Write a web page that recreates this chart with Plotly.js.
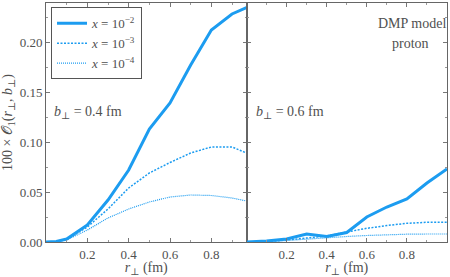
<!DOCTYPE html>
<html>
<head>
<meta charset="utf-8">
<script src="https://cdn.plot.ly/plotly-3.0.1.min.js"></script>
<style>html,body{margin:0;padding:0;background:#fff;}#chart{width:450px;height:277px;}</style>
</head>
<body>
<div id="chart"></div>
<script>
// r_perp values (fm)
var rLeft  = [0, 0.05, 0.1, 0.2, 0.3, 0.4, 0.5, 0.6, 0.7, 0.8, 0.9, 0.97];
var rRight = [0, 0.05, 0.1, 0.2, 0.3, 0.4, 0.5, 0.6, 0.7, 0.8, 0.9, 1.0];
// b_perp = 0.4 fm
var left_x1e2 = [0, 0.0005, 0.003, 0.017, 0.042, 0.072, 0.113, 0.139, 0.177, 0.212, 0.228, 0.2345];
var left_x1e3 = [0, 0.0004, 0.0025, 0.015, 0.033, 0.054, 0.069, 0.0795, 0.089, 0.095, 0.095, 0.089];
var left_x1e4 = [0, 0.0003, 0.002, 0.012, 0.024, 0.033, 0.040, 0.045, 0.047, 0.0465, 0.044, 0.041];
// b_perp = 0.6 fm
var right_x1e2 = [0, 0.0002, 0.001, 0.003, 0.008, 0.0055, 0.0095, 0.025, 0.035, 0.043, 0.059, 0.073];
var right_x1e3 = [0, 0.0001, 0.0005, 0.002, 0.0038, 0.006, 0.010, 0.0137, 0.0165, 0.0187, 0.0197, 0.0197];
var right_x1e4 = [0, 0.0001, 0.0004, 0.0015, 0.003, 0.0045, 0.0055, 0.0065, 0.0073, 0.0078, 0.008, 0.008];
var seriesNames = ['<i>x</i> = 10<sup>\u22122</sup>', '<i>x</i> = 10<sup>\u22123</sup>', '<i>x</i> = 10<sup>\u22124</sup>'];
var xTickVals = [0.2, 0.4, 0.6, 0.8];
var xTickText = ['0.2', '0.4', '0.6', '0.8'];
var yTickVals = [0, 0.05, 0.10, 0.15, 0.20];
var yTickText = ['0.00', '0.05', '0.10', '0.15', '0.20'];

var col = '#1c9cf0';
var styles = [
  {width: 3, dash: 'solid'},
  {width: 1.5, dash: '2px,1.5px'},
  {width: 1.2, dash: '1px,1px'}
];
var leftData = [left_x1e2, left_x1e3, left_x1e4];
var rightData = [right_x1e2, right_x1e3, right_x1e4];
var traces = [];
for (var i = 0; i < 3; i++) {
  traces.push({x: rLeft, y: leftData[i], xaxis: 'x', yaxis: 'y', mode: 'lines', name: seriesNames[i],
    line: {color: col, width: styles[i].width, dash: styles[i].dash}, legendgroup: 'g' + i});
}
for (var i = 0; i < 3; i++) {
  traces.push({x: rRight, y: rightData[i], xaxis: 'x2', yaxis: 'y2', mode: 'lines', name: seriesNames[i],
    showlegend: false, line: {color: col, width: styles[i].width, dash: styles[i].dash}, legendgroup: 'g' + i});
}

var FONT = "'Liberation Serif', 'DejaVu Serif', serif";
var TXT = '#505050';
var axisCommon = {
  showline: true, linecolor: '#666', linewidth: 1, mirror: 'allticks',
  ticks: 'inside', ticklen: 4, tickcolor: '#777', tickwidth: 1,
  showgrid: false, zeroline: false,
  tickfont: {family: FONT, size: 13, color: TXT}
};
function xax(domain, range, anchor) {
  return Object.assign({}, axisCommon, {
    domain: domain, range: range, anchor: anchor,
    tickmode: 'array', tickvals: xTickVals, ticktext: xTickText,
    minor: {dtick: 0.1, tick0: 0, ticks: 'inside', ticklen: 2, tickcolor: '#999', showgrid: false},
    title: {text: '<i>r</i><sub>\u22a5</sub> (fm)', font: {family: FONT, size: 14, color: TXT}, standoff: 3}
  });
}
function yax(anchor, labels) {
  return Object.assign({}, axisCommon, {
    range: [0, 0.239], anchor: anchor,
    tickmode: 'array', tickvals: yTickVals, ticktext: yTickText, showticklabels: labels,
    minor: {dtick: 0.025, tick0: 0, ticks: 'inside', ticklen: 2, tickcolor: '#999', showgrid: false}
  });
}

var yaxis = yax('x', true);
yaxis.title = {text: '100 \u00d7 \ud835\udcaa<sub>1</sub>(<i>r</i><sub>\u22a5</sub>, <i>b</i><sub>\u22a5</sub>)', font: {family: FONT, size: 14, color: TXT}, standoff: 7};
var yaxis2 = yax('x2', false);
yaxis2.matches = 'y';

var layout = {
  width: 450, height: 277,
  margin: {l: 46, r: 3, t: 3, b: 35},
  paper_bgcolor: '#fff', plot_bgcolor: '#fff',
  font: {family: FONT, size: 13, color: TXT},
  xaxis: xax([0, 0.5], [0, 0.97], 'y'),
  xaxis2: xax([0.5, 1], [0, 1.0], 'y2'),
  yaxis: yaxis,
  yaxis2: yaxis2,
  showlegend: true,
  legend: {x: 0.0125, y: 0.982, xanchor: 'left', yanchor: 'top', bordercolor: '#555', borderwidth: 1,
    bgcolor: '#fff', font: {family: FONT, size: 13, color: TXT}, itemwidth: 30, tracegroupgap: 0},
  annotations: [
    {xref: 'x', yref: 'y', x: 0.03, y: 0.13, xanchor: 'left', yanchor: 'middle', showarrow: false,
     text: '<i>b</i><sub>\u22a5</sub> = 0.4 fm', font: {family: FONT, size: 14, color: TXT}},
    {xref: 'x2', yref: 'y', x: 0.035, y: 0.13, xanchor: 'left', yanchor: 'middle', showarrow: false,
     text: '<i>b</i><sub>\u22a5</sub> = 0.6 fm', font: {family: FONT, size: 14, color: TXT}},
    {xref: 'x2', yref: 'y', x: 0.825, y: 0.219, xanchor: 'center', yanchor: 'middle', showarrow: false,
     text: 'DMP model', font: {family: FONT, size: 14, color: TXT}},
    {xref: 'x2', yref: 'y', x: 0.82, y: 0.199, xanchor: 'center', yanchor: 'middle', showarrow: false,
     text: 'proton', font: {family: FONT, size: 14, color: TXT}}
  ]
};
Plotly.newPlot('chart', traces, layout, {displayModeBar: false, staticPlot: true});
</script>
</body>
</html>
